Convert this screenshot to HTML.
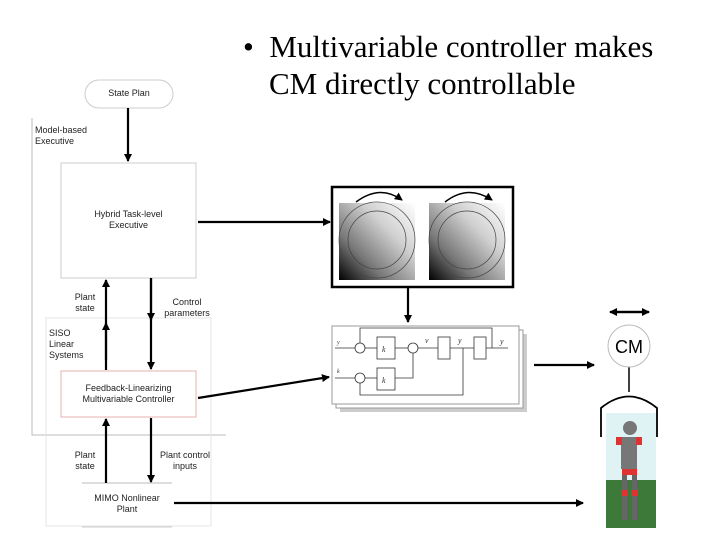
<!DOCTYPE html>
<html><head><style>
body{margin:0;width:720px;height:540px;background:#fff;overflow:hidden;position:relative;font-family:"Liberation Sans",sans-serif}
.t{position:absolute;font-family:"Liberation Serif",serif;font-size:31px;color:#000;white-space:nowrap}
.s{position:absolute;font-size:9px;color:#222;line-height:11px;text-align:center}
</style></head><body>
<div class="t" style="left:243px;top:29px">•&nbsp;&nbsp;Multivariable controller makes</div>
<div class="t" style="left:269px;top:66px">CM directly controllable</div>
<svg width="720" height="540" style="position:absolute;left:0;top:0">
<defs>
<marker id="a" markerWidth="8" markerHeight="8" refX="7" refY="4" orient="auto" markerUnits="userSpaceOnUse"><path d="M0,0L8,4L0,8z" fill="#000"/></marker>
<linearGradient id="g" x1="1" y1="0" x2="0" y2="1"><stop offset="0" stop-color="#fff"/><stop offset="0.35" stop-color="#d0d0d0"/><stop offset="0.7" stop-color="#777"/><stop offset="1" stop-color="#000"/></linearGradient>
</defs>
<rect x="85" y="80" width="88" height="28" rx="14" fill="#fff" stroke="#ccc"/>
<polyline points="32,118 32,435 226,435" fill="none" stroke="#bbb"/>
<rect x="46" y="318" width="165" height="208" fill="none" stroke="#e4e4e4"/>
<rect x="61" y="163" width="135" height="115" fill="#fff" stroke="#ccc"/>
<rect x="61" y="371" width="135" height="46" fill="#fff" stroke="#e7b0b0"/>
<line x1="82" y1="483" x2="172" y2="483" stroke="#bbb"/>
<line x1="82" y1="527" x2="172" y2="527" stroke="#ccc"/>
<g stroke="#000" stroke-width="2.2" fill="none">
<line x1="128" y1="108" x2="128" y2="161" marker-end="url(#a)"/>
<line x1="106" y1="370" x2="106" y2="280" marker-end="url(#a)"/>
<line x1="106" y1="360" x2="106" y2="323" marker-end="url(#a)"/>
<line x1="151" y1="278" x2="151" y2="369" marker-end="url(#a)"/>
<line x1="151" y1="278" x2="151" y2="320" marker-end="url(#a)"/>
<line x1="106" y1="483" x2="106" y2="419" marker-end="url(#a)"/>
<line x1="151" y1="418" x2="151" y2="482" marker-end="url(#a)"/>
<line x1="198" y1="222" x2="330" y2="222" marker-end="url(#a)"/>
<line x1="198" y1="398" x2="329" y2="377" marker-end="url(#a)"/>
<line x1="174" y1="503" x2="583" y2="503" marker-end="url(#a)"/>
<line x1="408" y1="288" x2="408" y2="322" marker-end="url(#a)"/>
<line x1="534" y1="365" x2="594" y2="365" marker-end="url(#a)"/>
<line x1="612" y1="312" x2="649" y2="312" marker-end="url(#a)"/>
<line x1="647" y1="312" x2="610" y2="312" marker-end="url(#a)"/>
</g>
<rect x="332" y="187" width="181" height="100" fill="#fff" stroke="#000" stroke-width="2.5"/>
<rect x="339" y="203" width="76" height="77" fill="url(#g)"/>
<rect x="429" y="203" width="76" height="77" fill="url(#g)"/>
<g fill="none" stroke="#444" stroke-width="0.7">
<circle cx="377" cy="240" r="38"/><circle cx="377" cy="240" r="29"/>
<circle cx="467" cy="240" r="38"/><circle cx="467" cy="240" r="29"/>
</g>
<path d="M356,202 Q380,184 402,200" fill="none" stroke="#000" stroke-width="1.5" marker-end="url(#a)"/>
<path d="M445,202 Q468,184 492,200" fill="none" stroke="#000" stroke-width="1.5" marker-end="url(#a)"/>
<rect x="340" y="334" width="187" height="78" fill="#ccc"/>
<rect x="336" y="330" width="187" height="78" fill="#fff" stroke="#999"/>
<rect x="332" y="326" width="187" height="78" fill="#fff" stroke="#999"/>
<g fill="none" stroke="#333" stroke-width="0.8">
<circle cx="360" cy="348" r="5"/><circle cx="413" cy="348" r="5"/><circle cx="360" cy="378" r="5"/>
<rect x="377" y="337" width="18" height="22"/><rect x="377" y="368" width="18" height="22"/>
<rect x="438" y="337" width="12" height="22"/><rect x="474" y="337" width="12" height="22"/>
<polyline points="335,348 355,348"/><polyline points="365,348 377,348"/><polyline points="395,348 408,348"/><polyline points="418,348 438,348"/><polyline points="450,348 474,348"/><polyline points="486,348 508,348"/>
<polyline points="492,348 492,328 360,328 360,343"/>
<polyline points="335,378 355,378"/><polyline points="365,378 377,378"/><polyline points="395,378 413,378 413,353"/>
<polyline points="463,348 463,395 360,395 360,383"/>
</g>
<g font-family="Liberation Serif,serif" font-style="italic" font-size="8" fill="#333">
<text x="382" y="352">k</text><text x="382" y="383">k</text><text x="500" y="344">y</text><text x="425" y="343">v</text><text x="458" y="343">y</text><text x="337" y="344" font-size="6">y</text><text x="337" y="373" font-size="6">k</text>
</g>
<line x1="629" y1="367" x2="629" y2="392" stroke="#000" stroke-width="1.5"/>
<path d="M601,437 L601,408 Q629,385 657,408 L657,437" fill="none" stroke="#000" stroke-width="1.8"/>
<circle cx="629" cy="346" r="21" fill="#fff" stroke="#bbb"/>
<text x="629" y="353" font-size="18" text-anchor="middle" fill="#000">CM</text>
<rect x="606" y="413" width="50" height="67" fill="#dff3f5"/>
<rect x="606" y="480" width="50" height="48" fill="#3d7a3a"/>
<rect x="621" y="437" width="16" height="32" fill="#777"/>
<circle cx="630" cy="428" r="7" fill="#777"/>
<rect x="616" y="437" width="6" height="8" fill="#d33"/><rect x="636" y="437" width="6" height="8" fill="#d33"/>
<rect x="622" y="469" width="15" height="6" fill="#d33"/>
<rect x="622" y="475" width="5" height="45" fill="#666"/><rect x="632" y="475" width="5" height="45" fill="#666"/>
<rect x="621" y="490" width="7" height="6" fill="#d33"/><rect x="631" y="490" width="7" height="6" fill="#d33"/>
</svg>
<div class="s" style="left:85px;top:88px;width:88px">State Plan</div>
<div class="s" style="left:35px;top:125px;text-align:left">Model-based<br>Executive</div>
<div class="s" style="left:61px;top:209px;width:135px">Hybrid Task-level<br>Executive</div>
<div class="s" style="left:68px;top:292px;width:34px">Plant<br>state</div>
<div class="s" style="left:157px;top:297px;width:60px">Control<br>parameters</div>
<div class="s" style="left:49px;top:328px;text-align:left">SISO<br>Linear<br>Systems</div>
<div class="s" style="left:61px;top:383px;width:135px">Feedback-Linearizing<br>Multivariable Controller</div>
<div class="s" style="left:68px;top:450px;width:34px">Plant<br>state</div>
<div class="s" style="left:155px;top:450px;width:60px">Plant control<br>inputs</div>
<div class="s" style="left:82px;top:493px;width:90px">MIMO Nonlinear<br>Plant</div>
</body></html>
